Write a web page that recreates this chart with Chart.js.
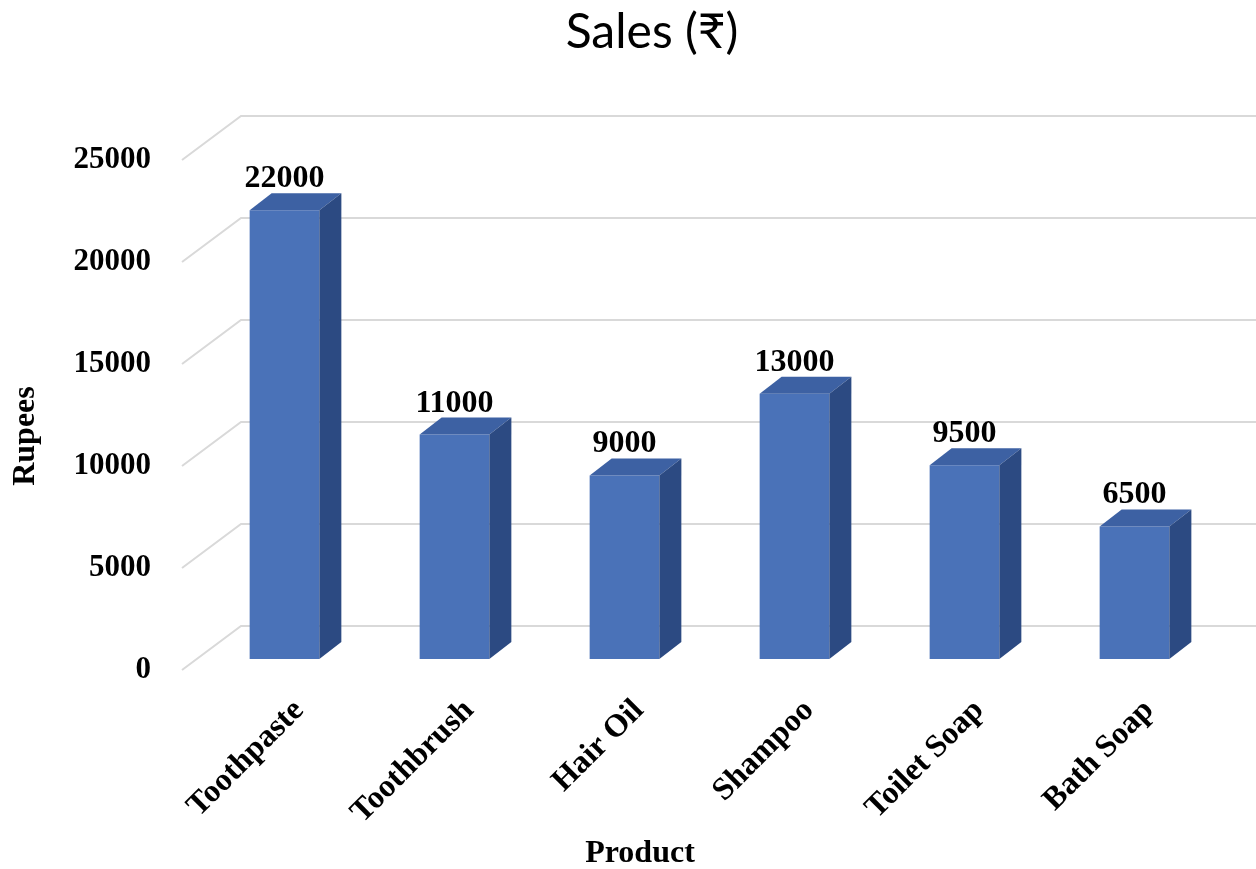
<!DOCTYPE html>
<html>
<head>
<meta charset="utf-8">
<title>Sales (₹)</title>
<script src="https://cdn.jsdelivr.net/npm/chart.js@4.4.1/dist/chart.umd.min.js"></script>
<style>
  html, body { margin: 0; padding: 0; background: #fff; }
  canvas { display: block; }
</style>
</head>
<body>
<canvas id="myChart" width="1256" height="869"></canvas>
<script>
// ** Data
const products = ['Toothpaste', 'Toothbrush', 'Hair Oil', 'Shampoo', 'Toilet Soap', 'Bath Soap']
const sales = [22000, 11000, 9000, 13000, 9500, 6500]
const rupeeTicks = [0, 5000, 10000, 15000, 20000, 25000]

const serif = "'Liberation Serif', 'Times New Roman', serif"

// fake 3d: depth of each bar, offset of the back wall, bars pushed a bit back
const DEPTH_X = 22, DEPTH_Y = -17
const WALL_X = 56, WALL_Y = -44
const SHIFT_X = 14.5, SHIFT_Y = -11

const fake3d = {
  id: 'fake3d',
  beforeDatasetsDraw(chart) {
    const { ctx, chartArea, scales: { y } } = chart
    ctx.save()
    ctx.strokeStyle = '#d9d9d9'
    ctx.lineWidth = 2
    rupeeTicks.forEach(v => {
      const py = y.getPixelForValue(v)
      ctx.beginPath()
      ctx.moveTo(chartArea.left - 3, py)
      ctx.lineTo(chartArea.left + WALL_X, py + WALL_Y)
      ctx.lineTo(chart.width, py + WALL_Y)
      ctx.stroke()
    })
    ctx.restore()
    ctx.save()
    ctx.translate(SHIFT_X, SHIFT_Y)
  },
  afterDatasetsDraw(chart) {
    const ctx = chart.ctx
    chart.getDatasetMeta(0).data.forEach((bar, i) => {
      const l = bar.x - bar.width / 2
      const r = bar.x + bar.width / 2
      // top face
      ctx.fillStyle = '#3d61a3'
      ctx.beginPath()
      ctx.moveTo(l, bar.y)
      ctx.lineTo(l + DEPTH_X, bar.y + DEPTH_Y)
      ctx.lineTo(r + DEPTH_X, bar.y + DEPTH_Y)
      ctx.lineTo(r, bar.y)
      ctx.closePath()
      ctx.fill()
      // side face
      ctx.fillStyle = '#2c4a82'
      ctx.beginPath()
      ctx.moveTo(r, bar.y)
      ctx.lineTo(r + DEPTH_X, bar.y + DEPTH_Y)
      ctx.lineTo(r + DEPTH_X, bar.base + DEPTH_Y)
      ctx.lineTo(r, bar.base)
      ctx.closePath()
      ctx.fill()
      // value label
      ctx.fillStyle = '#000'
      ctx.font = 'bold 32px ' + serif
      ctx.textAlign = 'center'
      ctx.textBaseline = 'alphabetic'
      ctx.fillText(sales[i], bar.x, bar.y - 23)
    })
    ctx.restore()
  },
  afterDraw(chart) {
    // axis titles, placed like the excel ones
    const ctx = chart.ctx
    ctx.save()
    ctx.fillStyle = '#000'
    ctx.font = 'bold 32px ' + serif
    ctx.textAlign = 'center'
    ctx.textBaseline = 'middle'
    ctx.fillText('Product', 640, 854)
    ctx.translate(26, 436)
    ctx.rotate(-Math.PI / 2)
    ctx.fillText('Rupees', 0, 0)
    ctx.restore()
  }
}

const ctx = document.getElementById('myChart').getContext('2d')
const myChart = new Chart(ctx, {
  type: 'bar',
  data: {
    labels: products,
    datasets: [
      {
        data: sales,
        backgroundColor: '#4a72b8',
        borderWidth: 0,
        barPercentage: 0.41,
        categoryPercentage: 1,
        clip: false
      }
    ]
  },
  options: {
    responsive: false,
    animation: false,
    events: [],
    layout: { padding: { left: 48, right: 0, top: 0, bottom: 0 } },
    plugins: {
      legend: { display: false },
      tooltip: { enabled: false },
      title: {
        display: true,
        text: 'Sales (₹)',
        color: '#000',
        font: { family: "Lato, 'Noto Sans', sans-serif", size: 48, weight: 'normal' },
        padding: { top: 4, bottom: 98.4 }
      }
    },
    scales: {
      x: {
        grid: { display: false, drawTicks: false },
        border: { display: false },
        ticks: {
          color: '#000',
          font: { family: serif, size: 32, weight: 'bold' },
          minRotation: 45,
          maxRotation: 45,
          labelOffset: 29,
          padding: 22
        },
        afterFit(scale) { scale.height = 199 }
      },
      y: {
        min: 0,
        max: 25000,
        grid: { display: false, drawTicks: false },
        border: { display: false },
        ticks: {
          stepSize: 5000,
          color: '#000',
          font: { family: serif, size: 31, weight: 'bold' },
          padding: 34,
          callback: v => String(v)
        },
        afterFit(scale) { scale.width = 137 }
      },
      // empty strip on the right so the title sits where excel put it
      spacer: {
        position: 'right',
        grid: { display: false, drawTicks: false },
        border: { display: false },
        ticks: { display: false },
        afterFit(scale) { scale.width = 51 }
      }
    }
  },
  plugins: [fake3d]
})
</script>
</body>
</html>
